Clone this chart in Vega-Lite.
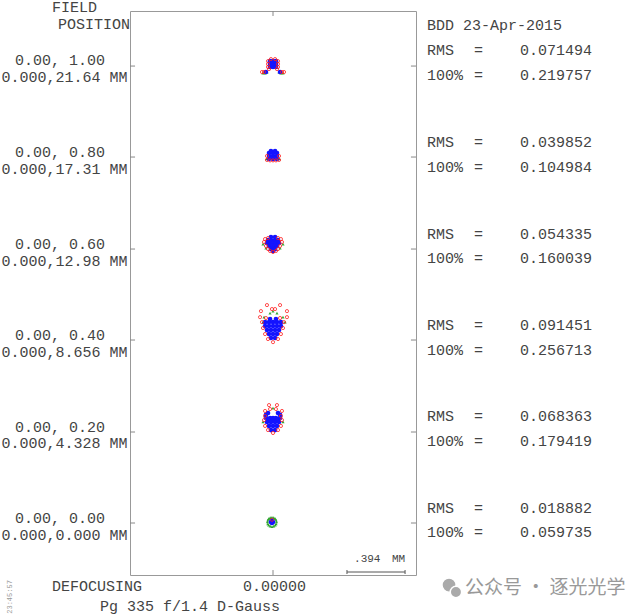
{
  "$schema": "https://vega.github.io/schema/vega-lite/v6.json",
  "width": 286,
  "height": 564,
  "autosize": {"type": "none"},
  "padding": {"left": 130, "top": 11, "right": 224, "bottom": 41},
  "background": "white",
  "config": {"view": {"stroke": "#999", "strokeWidth": 1}},
  "datasets": {
    "ticks": [
      {"x": -0.9724, "x2": -0.938, "y": 3.4476, "y2": 3.4476},
      {"x": -0.9724, "x2": -0.938, "y": 2.8288, "y2": 2.8288},
      {"x": -0.9724, "x2": -0.938, "y": 2.2032, "y2": 2.2032},
      {"x": -0.9724, "x2": -0.938, "y": 1.5844, "y2": 1.5844},
      {"x": -0.9724, "x2": -0.938, "y": 0.9588, "y2": 0.9588},
      {"x": -0.9724, "x2": -0.938, "y": 0.34, "y2": 0.34},
      {"x": 0.938, "x2": 0.9724, "y": 3.4476, "y2": 3.4476},
      {"x": 0.938, "x2": 0.9724, "y": 2.8288, "y2": 2.8288},
      {"x": 0.938, "x2": 0.9724, "y": 2.2032, "y2": 2.2032},
      {"x": 0.938, "x2": 0.9724, "y": 1.5844, "y2": 1.5844},
      {"x": 0.938, "x2": 0.9724, "y": 0.9588, "y2": 0.9588},
      {"x": 0.938, "x2": 0.9724, "y": 0.34, "y2": 0.34},
      {"x": 0, "x2": 0, "y": 3.822, "y2": 3.788},
      {"x": 0, "x2": 0, "y": -0.0136, "y2": 0.02}
    ],
    "bar": [
      {"x": 0.503, "x2": 0.898, "y": 0.0068, "y2": 0.0068},
      {"x": 0.503, "x2": 0.503, "y": 0.0204, "y2": -0.0068},
      {"x": 0.898, "x2": 0.898, "y": 0.0204, "y2": -0.0068}
    ],
    "blue": [
      {"x": -0.02, "y": 3.441}, {"x": 0, "y": 3.441}, {"x": 0.02, "y": 3.441},
      {"x": -0.02, "y": 3.461}, {"x": 0, "y": 3.461}, {"x": 0.02, "y": 3.461},
      {"x": -0.02, "y": 3.481}, {"x": 0, "y": 3.481}, {"x": 0.02, "y": 3.481},
      {"x": -0.048, "y": 3.407}, {"x": 0.048, "y": 3.407},
      {"x": -0.027, "y": 2.816}, {"x": 0, "y": 2.816}, {"x": 0.027, "y": 2.816},
      {"x": -0.027, "y": 2.836}, {"x": 0, "y": 2.836}, {"x": 0.027, "y": 2.836},
      {"x": -0.027, "y": 2.856}, {"x": 0, "y": 2.856}, {"x": 0.027, "y": 2.856},
      {"x": -0.014, "y": 2.87}, {"x": 0.014, "y": 2.87},
      {"x": -0.014, "y": 2.285}, {"x": 0.014, "y": 2.285},
      {"x": -0.034, "y": 2.264}, {"x": -0.014, "y": 2.264}, {"x": 0.014, "y": 2.264}, {"x": 0.034, "y": 2.264},
      {"x": -0.041, "y": 2.244}, {"x": -0.02, "y": 2.244}, {"x": 0, "y": 2.244}, {"x": 0.02, "y": 2.244}, {"x": 0.041, "y": 2.244},
      {"x": -0.027, "y": 2.224}, {"x": 0, "y": 2.224}, {"x": 0.027, "y": 2.224},
      {"x": -0.014, "y": 2.203}, {"x": 0.014, "y": 2.203},
      {"x": 0, "y": 2.19},
      {"x": -0.02, "y": 1.727}, {"x": 0.02, "y": 1.727},
      {"x": -0.054, "y": 1.706}, {"x": -0.027, "y": 1.706}, {"x": 0, "y": 1.706}, {"x": 0.027, "y": 1.706}, {"x": 0.054, "y": 1.706},
      {"x": -0.054, "y": 1.679}, {"x": -0.027, "y": 1.679}, {"x": 0, "y": 1.679}, {"x": 0.027, "y": 1.679}, {"x": 0.054, "y": 1.679},
      {"x": -0.041, "y": 1.652}, {"x": -0.014, "y": 1.652}, {"x": 0.014, "y": 1.652}, {"x": 0.041, "y": 1.652},
      {"x": -0.027, "y": 1.625}, {"x": 0, "y": 1.625}, {"x": 0.027, "y": 1.625},
      {"x": -0.014, "y": 1.598}, {"x": 0.014, "y": 1.598},
      {"x": -0.034, "y": 1.088}, {"x": 0.034, "y": 1.088},
      {"x": -0.048, "y": 1.075}, {"x": 0.048, "y": 1.075},
      {"x": -0.048, "y": 1.054}, {"x": -0.02, "y": 1.054}, {"x": 0, "y": 1.054}, {"x": 0.02, "y": 1.054}, {"x": 0.048, "y": 1.054},
      {"x": -0.027, "y": 1.04}, {"x": 0, "y": 1.04}, {"x": 0.027, "y": 1.04},
      {"x": -0.041, "y": 1.027}, {"x": -0.014, "y": 1.027}, {"x": 0.014, "y": 1.027}, {"x": 0.041, "y": 1.027},
      {"x": -0.027, "y": 1.0}, {"x": 0, "y": 1.0}, {"x": 0.027, "y": 1.0},
      {"x": -0.014, "y": 0.972}, {"x": 0.014, "y": 0.972},
      {"x": -0.007, "y": 0.347}, {"x": -0.014, "y": 0.347}, {"x": 0, "y": 0.347},
      {"x": -0.007, "y": 0.354}, {"x": -0.007, "y": 0.34}
    ],
    "green": [
      {"x": -0.068, "y": 3.4}, {"x": -0.054, "y": 3.4}, {"x": 0.054, "y": 3.4}, {"x": 0.068, "y": 3.4},
      {"x": -0.041, "y": 3.407}, {"x": 0.041, "y": 3.407},
      {"x": -0.044, "y": 2.816}, {"x": 0.044, "y": 2.816},
      {"x": -0.068, "y": 2.237}, {"x": 0.068, "y": 2.237}, {"x": -0.048, "y": 2.21}, {"x": 0.048, "y": 2.21},
      {"x": -0.02, "y": 1.768}, {"x": 0.027, "y": 1.768}, {"x": 0, "y": 1.781},
      {"x": -0.061, "y": 1.74}, {"x": 0.068, "y": 1.74}, {"x": -0.068, "y": 1.706}, {"x": 0.082, "y": 1.706},
      {"x": 0, "y": 1.122}, {"x": -0.034, "y": 1.095}, {"x": 0.034, "y": 1.095},
      {"x": -0.068, "y": 1.027}, {"x": 0.068, "y": 1.027},
      {"x": -0.038, "y": 0.347}, {"x": 0.024, "y": 0.347}, {"x": -0.007, "y": 0.378}, {"x": -0.007, "y": 0.316},
      {"x": -0.029, "y": 0.369}, {"x": 0.015, "y": 0.369}, {"x": -0.029, "y": 0.325}, {"x": 0.015, "y": 0.325},
      {"x": -0.035, "y": 0.36}, {"x": 0.021, "y": 0.36}, {"x": -0.035, "y": 0.334}, {"x": 0.021, "y": 0.334},
      {"x": -0.019, "y": 0.376}, {"x": 0.005, "y": 0.376}, {"x": -0.019, "y": 0.318}, {"x": 0.005, "y": 0.318}
    ],
    "red": [
      {"x": -0.034, "y": 3.441}, {"x": -0.034, "y": 3.461}, {"x": -0.034, "y": 3.481},
      {"x": 0.034, "y": 3.441}, {"x": 0.034, "y": 3.461}, {"x": 0.034, "y": 3.481},
      {"x": -0.014, "y": 3.495}, {"x": 0.014, "y": 3.495},
      {"x": -0.075, "y": 3.407}, {"x": -0.061, "y": 3.407}, {"x": 0.061, "y": 3.407}, {"x": 0.075, "y": 3.407},
      {"x": -0.027, "y": 3.427}, {"x": 0.027, "y": 3.427},
      {"x": -0.041, "y": 2.809}, {"x": -0.02, "y": 2.806}, {"x": 0, "y": 2.806}, {"x": 0.02, "y": 2.806}, {"x": 0.041, "y": 2.809},
      {"x": -0.041, "y": 2.836}, {"x": 0.041, "y": 2.836},
      {"x": -0.054, "y": 2.271}, {"x": 0.054, "y": 2.271}, {"x": -0.034, "y": 2.278}, {"x": 0.034, "y": 2.278},
      {"x": -0.061, "y": 2.251}, {"x": 0.061, "y": 2.251}, {"x": -0.048, "y": 2.224}, {"x": 0.048, "y": 2.224},
      {"x": -0.034, "y": 2.203}, {"x": 0.034, "y": 2.203}, {"x": 0, "y": 2.183}, {"x": -0.02, "y": 2.19}, {"x": 0.02, "y": 2.19},
      {"x": -0.041, "y": 1.822}, {"x": 0.048, "y": 1.822}, {"x": -0.007, "y": 1.795}, {"x": 0.014, "y": 1.795},
      {"x": -0.082, "y": 1.781}, {"x": 0.095, "y": 1.781}, {"x": -0.088, "y": 1.74}, {"x": 0.095, "y": 1.74},
      {"x": -0.048, "y": 1.734}, {"x": 0.048, "y": 1.734},
      {"x": -0.075, "y": 1.706}, {"x": 0.075, "y": 1.706}, {"x": -0.068, "y": 1.666}, {"x": 0.068, "y": 1.666},
      {"x": -0.054, "y": 1.625}, {"x": 0.054, "y": 1.625}, {"x": -0.034, "y": 1.591}, {"x": 0.034, "y": 1.591}, {"x": 0, "y": 1.57},
      {"x": -0.027, "y": 1.142}, {"x": 0.027, "y": 1.142}, {"x": -0.02, "y": 1.115}, {"x": 0.02, "y": 1.115},
      {"x": -0.054, "y": 1.102}, {"x": 0.061, "y": 1.102}, {"x": -0.054, "y": 1.068}, {"x": 0.054, "y": 1.068},
      {"x": -0.061, "y": 1.04}, {"x": 0.061, "y": 1.04}, {"x": -0.054, "y": 1.0}, {"x": 0.054, "y": 1.0},
      {"x": -0.034, "y": 0.972}, {"x": 0.034, "y": 0.972}, {"x": 0, "y": 0.952},
      {"x": -0.007, "y": 0.362}
    ],
    "labels": [
      {"x": -1.503, "y": 3.849, "t": "FIELD"},
      {"x": -1.462, "y": 3.733, "t": "POSITION"},
      {"x": -1.754, "y": 3.489, "t": "0.00, 1.00"},
      {"x": -1.846, "y": 3.373, "t": "0.000,21.64 MM"},
      {"x": -1.754, "y": 2.863, "t": "0.00, 0.80"},
      {"x": -1.846, "y": 2.747, "t": "0.000,17.31 MM"},
      {"x": -1.754, "y": 2.237, "t": "0.00, 0.60"},
      {"x": -1.846, "y": 2.122, "t": "0.000,12.98 MM"},
      {"x": -1.754, "y": 1.618, "t": "0.00, 0.40"},
      {"x": -1.846, "y": 1.503, "t": "0.000,8.656 MM"},
      {"x": -1.754, "y": 0.993, "t": "0.00, 0.20"},
      {"x": -1.846, "y": 0.884, "t": "0.000,4.328 MM"},
      {"x": -1.754, "y": 0.374, "t": "0.00, 0.00"},
      {"x": -1.846, "y": 0.258, "t": "0.000,0.000 MM"},
      {"x": 1.047, "y": 3.726, "t": "BDD 23-Apr-2015"},
      {"x": 1.047, "y": 3.556, "t": "RMS"}, {"x": 1.367, "y": 3.556, "t": "="}, {"x": 1.68, "y": 3.556, "t": "0.071494"},
      {"x": 1.047, "y": 3.386, "t": "100%"}, {"x": 1.367, "y": 3.386, "t": "="}, {"x": 1.68, "y": 3.386, "t": "0.219757"},
      {"x": 1.047, "y": 2.931, "t": "RMS"}, {"x": 1.367, "y": 2.931, "t": "="}, {"x": 1.68, "y": 2.931, "t": "0.039852"},
      {"x": 1.047, "y": 2.761, "t": "100%"}, {"x": 1.367, "y": 2.761, "t": "="}, {"x": 1.68, "y": 2.761, "t": "0.104984"},
      {"x": 1.047, "y": 2.305, "t": "RMS"}, {"x": 1.367, "y": 2.305, "t": "="}, {"x": 1.68, "y": 2.305, "t": "0.054335"},
      {"x": 1.047, "y": 2.142, "t": "100%"}, {"x": 1.367, "y": 2.142, "t": "="}, {"x": 1.68, "y": 2.142, "t": "0.160039"},
      {"x": 1.047, "y": 1.686, "t": "RMS"}, {"x": 1.367, "y": 1.686, "t": "="}, {"x": 1.68, "y": 1.686, "t": "0.091451"},
      {"x": 1.047, "y": 1.516, "t": "100%"}, {"x": 1.367, "y": 1.516, "t": "="}, {"x": 1.68, "y": 1.516, "t": "0.256713"},
      {"x": 1.047, "y": 1.068, "t": "RMS"}, {"x": 1.367, "y": 1.068, "t": "="}, {"x": 1.68, "y": 1.068, "t": "0.068363"},
      {"x": 1.047, "y": 0.898, "t": "100%"}, {"x": 1.367, "y": 0.898, "t": "="}, {"x": 1.68, "y": 0.898, "t": "0.179419"},
      {"x": 1.047, "y": 0.442, "t": "RMS"}, {"x": 1.367, "y": 0.442, "t": "="}, {"x": 1.68, "y": 0.442, "t": "0.018882"},
      {"x": 1.047, "y": 0.279, "t": "100%"}, {"x": 1.367, "y": 0.279, "t": "="}, {"x": 1.68, "y": 0.279, "t": "0.059735"},
      {"x": -1.503, "y": -0.088, "t": "DEFOCUSING"},
      {"x": -0.204, "y": -0.088, "t": "0.00000"},
      {"x": -1.176, "y": -0.224, "t": "Pg 335 f/1.4 D-Gauss"}
    ],
    "scaletext": [
      {"x": 0.551, "y": 0.095, "t": ".394"},
      {"x": 0.809, "y": 0.095, "t": "MM"}
    ],
    "wmicon": [
      {"x": 1.197, "y": -0.082, "s": "big"},
      {"x": 1.244, "y": -0.129, "s": "small"}
    ],
    "wmtext": [
      {"x": 1.306, "y": -0.102, "t": "公众号 · 逐光光学"}
    ],
    "stamp": [
      {"x": -1.788, "y": -0.163, "t": "23:45:57"}
    ]
  },
  "encoding": {
    "x": {"field": "x", "type": "quantitative", "scale": {"domain": [-0.9724, 0.9724], "nice": false, "zero": false}, "axis": null},
    "y": {"field": "y", "type": "quantitative", "scale": {"domain": [-0.0136, 3.822], "nice": false, "zero": false}, "axis": null}
  },
  "layer": [
    {
      "data": {"name": "ticks"},
      "mark": {"type": "rule", "color": "#888", "strokeWidth": 1},
      "encoding": {"x2": {"field": "x2"}, "y2": {"field": "y2"}}
    },
    {
      "data": {"name": "bar"},
      "mark": {"type": "rule", "color": "#555", "strokeWidth": 1},
      "encoding": {"x2": {"field": "x2"}, "y2": {"field": "y2"}}
    },
    {
      "data": {"name": "green"},
      "mark": {"type": "point", "shape": "triangle-up", "filled": true, "size": 10, "color": "#1f9f1f", "opacity": 0.9}
    },
    {
      "data": {"name": "blue"},
      "mark": {"type": "point", "shape": "circle", "filled": true, "size": 22, "color": "#1414ff", "opacity": 1}
    },
    {
      "data": {"name": "red"},
      "mark": {"type": "point", "shape": "circle", "filled": false, "size": 10, "color": "#ff2020", "strokeWidth": 1, "opacity": 0.8}
    },
    {
      "data": {"name": "labels"},
      "mark": {"type": "text", "font": "Liberation Mono", "fontSize": 15, "align": "left", "baseline": "middle", "color": "#444"},
      "encoding": {"text": {"field": "t"}}
    },
    {
      "data": {"name": "scaletext"},
      "mark": {"type": "text", "font": "Liberation Mono", "fontSize": 11, "align": "left", "baseline": "middle", "color": "#444"},
      "encoding": {"text": {"field": "t"}}
    },
    {
      "data": {"name": "wmicon"},
      "mark": {"type": "point", "shape": "circle", "filled": true, "color": "#aaa", "opacity": 1, "stroke": "white", "strokeWidth": 1.5},
      "encoding": {"size": {"field": "s", "type": "nominal", "scale": {"domain": ["big", "small"], "range": [200, 130]}, "legend": null}}
    },
    {
      "data": {"name": "wmtext"},
      "mark": {"type": "text", "font": "Noto Sans CJK SC", "fontSize": 19, "align": "left", "baseline": "middle", "color": "#999"},
      "encoding": {"text": {"field": "t"}}
    },
    {
      "data": {"name": "stamp"},
      "mark": {"type": "text", "font": "Liberation Mono", "fontSize": 7, "align": "center", "baseline": "middle", "angle": 270, "color": "#999"},
      "encoding": {"text": {"field": "t"}}
    }
  ]
}
